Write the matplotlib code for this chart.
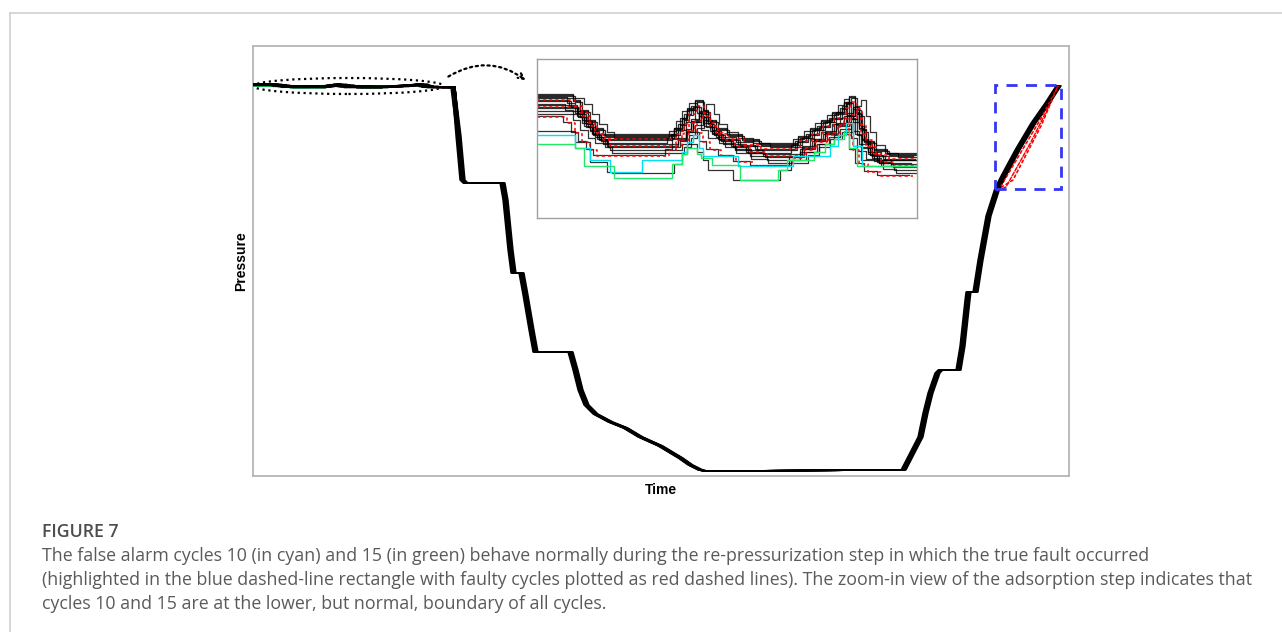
import numpy as np
import matplotlib
matplotlib.use("Agg")
import matplotlib.pyplot as plt
from matplotlib.patches import Ellipse, Rectangle
from matplotlib.lines import Line2D

# ---- adsorption step (zoom-in), time [s] / pressure [kPa], step-wise sensor readings
base_t = [0, 18, 22, 26, 30, 34, 72, 76, 79, 83, 87, 90, 94, 100, 108, 117, 138, 144, 150, 156, 162, 165, 168, 170, 173, 178, 185, 202]
base_p = [391.9, 391.6, 391.1, 390.6, 390.2, 389.9, 390.2, 390.7, 391.2, 391.6, 391.1, 390.6, 390.2, 389.9, 389.6, 389.4,
          389.8, 390.2, 390.6, 391.0, 391.5, 391.8, 391.0, 390.2, 389.5, 389.1, 388.9, 388.9]

# normal cycles (black): time shift / pressure offset of each cycle
black_dt = [0, 3, -2, 5, 1, -3, 6, 2, -1, 4, 7, -4, 3, 1]
black_dp = [0.0, -0.3, 0.2, -0.5, 0.35, -0.15, -0.65, 0.25, 0.05, -0.35, 0.15, -0.75, -0.2, 0.3]
black_sh = [0, 1, -1, 2, 0, -2, 3, 1, -1, 2, 1, -1, 0, 2]

# faulty cycles (red dashed)
red_dt = [2, -2, 5]
red_dp = [0.05, -0.8, -0.3]

# one low normal cycle
low_t = [0, 20, 28, 37, 40, 73, 77, 80, 85, 88, 91, 104, 129, 135, 140, 150, 158, 164, 168, 172, 202]
low_p = [390.4, 389.8, 388.8, 388.3, 388.25, 388.7, 389.2, 389.7, 389.3, 388.9, 388.4, 387.9, 388.4, 388.9, 389.3, 389.7,
         390.2, 390.8, 389.6, 388.9, 388.9]

# false alarm cycles
cyan_t = [0, 20, 28, 39, 56, 77, 80, 83, 86, 88, 107, 136, 150, 156, 160, 164, 168, 173, 202]
cyan_p = [390.2, 389.5, 388.9, 388.3, 388.9, 389.3, 389.8, 390.2, 389.5, 389.1, 388.6, 389.1, 389.1, 389.6, 390.2, 390.8,
          389.6, 388.6, 388.6]
green_t = [0, 20, 25, 41, 72, 77, 80, 85, 87, 93, 108, 128, 133, 147, 153, 158, 163, 166, 170, 202]
green_p = [389.7, 389.5, 388.6, 388.0, 388.7, 389.2, 389.5, 389.2, 389.0, 388.65, 387.9, 388.4, 388.9, 389.3, 389.7,
           390.0, 390.4, 389.5, 388.6, 388.6]

# ---- rest of the cycle (depressurization ... re-pressurization)
tail_t = [205, 209, 212, 249, 252, 257, 260, 268, 272, 278, 282, 317, 322, 327, 333, 342, 357, 372, 387, 407, 427, 437,
          447, 452, 650, 667, 672, 677, 684, 687, 705, 709, 714, 715, 722, 727, 735, 744, 750, 764, 780, 794, 805]
tail_p = [340, 296, 293, 293, 276, 226, 203, 203, 181, 146, 124, 124, 106, 86, 71, 62, 54, 48, 39, 30, 18, 11,
          6, 5, 6, 39, 63, 83, 103, 106, 106, 130, 176, 184, 184, 216, 260, 288, 300, 326, 353, 373, 390]

# faulty re-pressurization ends (after t = 744 s)
red_tail_t = [[744, 748, 787, 805], [744, 753, 778, 796, 805], [744, 760, 788, 805]]
red_tail_p = [[286, 290, 356, 390], [285, 289, 334, 370, 390], [286, 296, 350, 390]]


def steps(t, p):
    t = np.asarray(t, float)
    p = np.asarray(p, float)
    tt = np.repeat(t, 2)[1:]
    pp = np.repeat(p, 2)[:-1]
    return tt, pp


def full_cycle(t, p, sh, red_i=None):
    ts, ps = steps(t, p)
    ts = np.minimum(ts, 202)
    tt = np.array(tail_t, float) + sh
    pt = np.array(tail_p, float)
    if red_i is not None:
        keep = tt < 744
        tt = np.concatenate([tt[keep], red_tail_t[red_i]])
        pt = np.concatenate([pt[keep], red_tail_p[red_i]])
    return np.concatenate([ts, tt]), np.concatenate([ps, pt])


def shifted(dt):
    return np.array(base_t) + np.r_[0, [dt] * (len(base_t) - 1)]


fig = plt.figure(figsize=(12.82, 6.32), dpi=100)
W, H = 1282, 632

ax = fig.add_axes([253 / W, 1 - 476 / H, (1069 - 253) / W, (476 - 46) / H])
axi = fig.add_axes([537 / W, 1 - 218 / H, (917 - 537) / W, (218 - 59) / H])

cyan_c = "#00e1f0"
green_c = "#22e86a"

# main plot: coloured cycles underneath, black bundle on top
for i, (dt, dp) in enumerate(zip(red_dt, red_dp)):
    t, p = full_cycle(shifted(dt), np.array(base_p) + dp, 0, red_i=i)
    ax.plot(t, p, color="red", lw=1.0, ls=(0, (2, 2)), zorder=2)
t, p = full_cycle(cyan_t, cyan_p, 0)
ax.plot(t, p, color=cyan_c, lw=1.0, zorder=2)
t, p = full_cycle(green_t, green_p, 1)
ax.plot(t, p, color=green_c, lw=1.0, zorder=2)
for dt, dp, sh in zip(black_dt, black_dp, black_sh):
    t, p = full_cycle(shifted(dt), np.array(base_p) + dp, sh)
    ax.plot(t, p, color="black", lw=1.0, zorder=3)
t, p = full_cycle(low_t, low_p, -1)
ax.plot(t, p, color="black", lw=1.0, zorder=3)
# faulty part of the red cycles stays visible
for i in range(len(red_tail_t)):
    ax.plot(red_tail_t[i], red_tail_p[i], color="red", lw=1.0, ls=(0, (2, 2)), zorder=4)

ax.set_xlim(0, 816)
ax.set_ylim(0, 430)
ax.set_xticks([])
ax.set_yticks([])
for s in ax.spines.values():
    s.set_color("#b0b0b0")
    s.set_linewidth(1.2)

# ellipse + arrow pointing to the zoom-in
ax.add_patch(Ellipse((95.5, 390), 191, 16, fill=False, ls=":", lw=1.6, color="black"))
ax.annotate("", xy=(275, 394), xytext=(193, 398),
            arrowprops=dict(arrowstyle="->", ls=":", lw=1.6, color="black",
                            connectionstyle="arc3,rad=-0.35"))

# blue dashed box around faulty re-pressurization
ax.add_patch(Rectangle((742, 287), 66, 104, fill=False, ls=(0, (4, 3)), lw=2, color="#3535f5", zorder=5))

# inset
for dt, dp in zip(black_dt, black_dp):
    t, p = steps(shifted(dt), np.array(base_p) + dp)
    axi.plot(t, p, color="black", lw=0.9, alpha=0.8)
t, p = steps(low_t, low_p)
axi.plot(t, p, color="black", lw=0.9, alpha=0.8)
for dt, dp in zip(red_dt, red_dp):
    t, p = steps(shifted(dt), np.array(base_p) + dp)
    axi.plot(t, p, color="red", lw=1.1, ls=(0, (2, 2)))
t, p = steps(cyan_t, cyan_p)
axi.plot(t, p, color=cyan_c, lw=1.0)
t, p = steps(green_t, green_p)
axi.plot(t, p, color=green_c, lw=1.0)
axi.set_xlim(0, 202)
axi.set_ylim(386, 394)
axi.set_xticks([])
axi.set_yticks([])
for s in axi.spines.values():
    s.set_color("#a0a0a0")
    s.set_linewidth(1.0)

fig.text(241 / W, 1 - 261 / H, "Pressure", rotation=90, ha="center", va="center",
         fontsize=10, fontweight="bold", family="Liberation Sans")
fig.text(661 / W, 1 - 490 / H, "Time", ha="center", va="center",
         fontsize=10, fontweight="bold", family="Liberation Sans")

# page frame (top and left edges)
fig.add_artist(Line2D([9.5 / W, 1], [1 - 12.5 / H, 1 - 12.5 / H], color="#cfcfcf", lw=1.2))
fig.add_artist(Line2D([9.5 / W, 9.5 / W], [0, 1 - 12.5 / H], color="#cfcfcf", lw=1.2))

# caption
cap = ["The false alarm cycles 10 (in cyan) and 15 (in green) behave normally during the re-pressurization step in which the true fault occurred",
       "(highlighted in the blue dashed-line rectangle with faulty cycles plotted as red dashed lines). The zoom-in view of the adsorption step indicates that",
       "cycles 10 and 15 are at the lower, but normal, boundary of all cycles."]
fig.text(42 / W, 1 - 532 / H, "FIGURE 7", ha="left", va="center", fontsize=12.8,
         family="Open Sans", fontweight="semibold", color="#4d4d4d")
for i, line in enumerate(cap):
    fig.text(42 / W, 1 - (556 + 24 * i) / H, line, ha="left", va="center", fontsize=12.8,
             family="Open Sans", color="#5a5a5a")

fig.savefig("out.png", dpi=100, facecolor="white")
